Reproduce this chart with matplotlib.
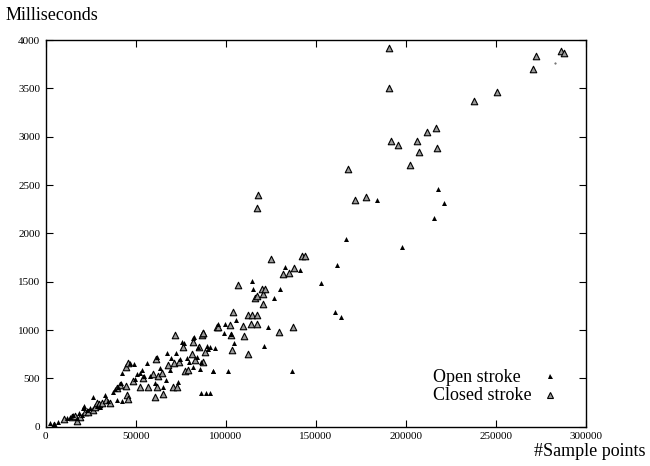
import matplotlib
matplotlib.use("Agg")
import matplotlib.pyplot as plt
from matplotlib.lines import Line2D

# ---- data ----
open_x = [2389, 4800, 7020, 11650, 13500, 15350, 17200, 18690, 19980, 20540, 21280, 22760, 24610,
          26100, 28320, 30170, 32950, 34800, 37200, 38500, 40350, 41650, 42210, 39800, 42210,
          46840, 49060, 49630, 50540, 52400, 53320, 54620, 56100, 57950, 60730, 61650, 63500,
          64990, 66840, 67210, 69060, 69430, 72390, 73690, 74620, 75540, 76840, 78320, 79810,
          81660, 82400, 83870, 84800, 85730, 86100, 89430, 90360, 91290, 93100, 94060,
          86100, 88880, 91290, 81700, 95700, 99100, 103100, 104800, 121100, 93100, 101300,
          136800, 105700, 123700, 114500, 115000, 130200, 126800, 133000, 141300, 153000,
          161800, 160900, 164200, 166800, 198100, 184200, 218100, 221300, 215600, 99600]
open_y = [42, 28, 52, 87, 104, 121, 87, 138, 121, 190, 214, 173, 190,
          304, 214, 200, 328, 269, 362, 387, 407, 449, 559, 276, 269,
          655, 649, 490, 545, 559, 587, 525, 655, 525, 455, 724, 604,
          407, 483, 759, 587, 707, 766, 466, 697, 880, 869, 707, 673,
          621, 925, 724, 821, 593, 673, 835, 800, 828, 580, 811,
          352, 352, 352, 914, 1062, 966, 959, 869, 838, 573, 573,
          573, 1104, 1028, 1511, 1421, 1421, 1328, 1655, 1621, 1484,
          1670, 1183, 1138, 1939, 1856, 2345, 2456, 2318, 2156, 1062]

closed_x = [4610, 10170, 14430, 16280, 17570, 19060, 21830, 23690, 26460, 27390, 28690, 29800,
            31100, 33500, 35700, 39430, 41280, 44610, 45360, 45720, 44610, 45900, 48320,
            53870, 52400, 57020, 59430, 61280, 62020, 60730, 62580, 64430, 65360, 68130,
            70540, 71280, 71840, 72760, 74250, 76470, 77390, 78880, 81100, 82020, 82950,
            85340, 86660, 87580, 87580, 88500, 95000, 87200, 95700, 102400, 103100, 103300,
            104200, 107000, 109800, 110300, 112400, 112600, 113900, 114500, 116300, 117600,
            117600, 117600, 120000, 120700, 120900, 121800, 125300, 129800, 131700, 135300,
            137200, 138000, 117600, 118000, 142200, 144100, 168100, 171700, 177800, 190700,
            190900, 191700, 195900, 202400, 206500, 207400, 211700, 217000, 217600, 238100,
            250900, 270700, 272400, 286100, 288100]
closed_y = [21, 76, 97, 111, 62, 104, 156, 156, 173, 207, 249, 235,
            242, 276, 249, 397, 431, 421, 328, 283, 621, 662, 476,
            500, 407, 407, 545, 697, 407, 304, 525, 559, 338, 638,
            407, 655, 949, 407, 673, 828, 580, 587, 752, 880, 690,
            828, 949, 973, 673, 776, 1035, 966, 1028, 1052, 949, 793,
            1190, 1463, 1042, 938, 1152, 749, 1062, 1156, 1328, 1156,
            1352, 1062, 1421, 1266, 1373, 1421, 1732, 983, 1580, 1593,
            1034, 1638, 2265, 2398, 1766, 1766, 2663, 2345, 2380, 3500,
            3915, 2959, 2914, 2707, 2959, 2845, 3052, 3087, 2880, 3369,
            3462, 3697, 3835, 3887, 3870]

stray_x = [283000]
stray_y = [3766]

series_labels = ['Open stroke', 'Closed stroke']
x_ticks = [0, 50000, 100000, 150000, 200000, 250000, 300000]
y_ticks = [0, 500, 1000, 1500, 2000, 2500, 3000, 3500, 4000]

plt.rcParams['font.family'] = ['Liberation Serif', 'DejaVu Serif']

fig = plt.figure(figsize=(6.5, 4.66), dpi=100)
ax = fig.add_axes([45.7/650, 1-426.7/466, 540/650, 386.7/466])

open_style = dict(marker='^', s=13, c='black', linewidths=0)
closed_style = dict(marker='^', s=22, facecolors='#9a9a9a', edgecolors='black', linewidths=0.8)

ax.scatter(open_x, open_y, zorder=3, **open_style)
ax.scatter(closed_x, closed_y, zorder=2, **closed_style)
ax.scatter(stray_x, stray_y, marker='.', s=1, c='#555555', zorder=2)

ax.set_xlim(0, 300000)
ax.set_ylim(0, 4000)
ax.set_xticks(x_ticks)
ax.set_yticks(y_ticks)
ax.set_xticklabels([str(v) for v in x_ticks])
ax.set_yticklabels([str(v) for v in y_ticks])
ax.tick_params(direction='in', top=True, right=True, length=5, width=0.8, labelsize=8, pad=4)
for s in ax.spines.values():
    s.set_linewidth(1.0)

fig.text(6/650, 1-15/466, 'Milliseconds', fontsize=13, ha='left', va='center')
fig.text(646/650, 1-451/466, '#Sample points', fontsize=13, ha='right', va='center')

# legend: left-aligned labels, markers in a column to the right
fig.text(433/650, 1-378/466, series_labels[0], fontsize=13, ha='left', va='center')
fig.text(433/650, 1-396/466, series_labels[1], fontsize=13, ha='left', va='center')
h_open = Line2D([], [], linestyle='none', marker='^', markersize=3.6, color='black', markeredgewidth=0)
h_closed = Line2D([], [], linestyle='none', marker='^', markersize=4.6, markerfacecolor='#9a9a9a',
                  markeredgecolor='black', markeredgewidth=0.8)
leg = ax.legend([h_open, h_closed], ['', ''], loc='center', bbox_to_anchor=(550/650, 1-387/466),
                bbox_transform=fig.transFigure, frameon=False, handlelength=1.0,
                handletextpad=0.0, labelspacing=0.12, borderpad=0.0, fontsize=13)

fig.savefig('out.png', dpi=100)
